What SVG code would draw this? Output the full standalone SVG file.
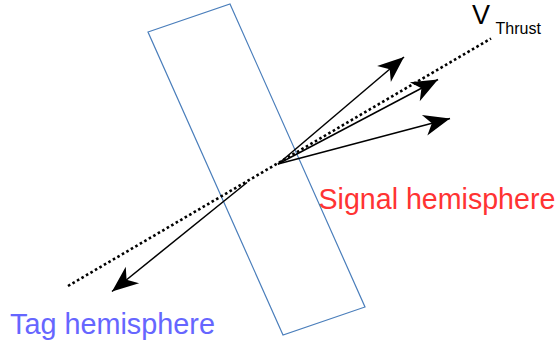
<svg xmlns="http://www.w3.org/2000/svg" width="555" height="342" viewBox="0 0 555 342">
<style>
.arr{stroke:#000;stroke-width:1.5;fill:none;marker-end:url(#ah)}
.lbl{font-family:"Liberation Sans",Arial,sans-serif}
</style>
<defs>
<marker id="ah" markerUnits="userSpaceOnUse" markerWidth="30" markerHeight="30" viewBox="-22 -10 24 20" refX="0" refY="0" orient="auto" overflow="visible">
<path d="M0,0 L-21,-8.5 L-15,0 L-21,8.5 Z" fill="#000"/>
</marker>
</defs>
<rect width="555" height="342" fill="#fff"/>
<g id="plane">
<polygon points="148,32 230,4 365,307 283,335" fill="none" stroke="#4a7ebb" stroke-width="1.2"/>
</g>
<g id="connectors">
<line x1="68" y1="286" x2="491" y2="38.5" stroke="#000" stroke-width="2.6" stroke-dasharray="2.6 2.6"/>
<line class="arr" x1="278" y1="164" x2="404" y2="57"/>
<line class="arr" x1="278" y1="164" x2="438" y2="79.5"/>
<line class="arr" x1="278" y1="164" x2="450" y2="118.5"/>
<line class="arr" x1="247" y1="182.5" x2="112" y2="291.5"/>
</g>
<g id="vthrust">
<text class="lbl" x="472" y="23.5" font-size="27" fill="#000">V</text>
<text class="lbl" x="495.5" y="33.5" font-size="16" fill="#000">Thrust</text>
</g>
<g id="signal">
<text class="lbl" x="318.5" y="208.5" font-size="28.6" fill="#ff3333">Signal hemisphere</text>
</g>
<g id="tag">
<text class="lbl" x="10" y="333.5" font-size="28.8" fill="#6666ff">Tag hemisphere</text>
</g>
</svg>
